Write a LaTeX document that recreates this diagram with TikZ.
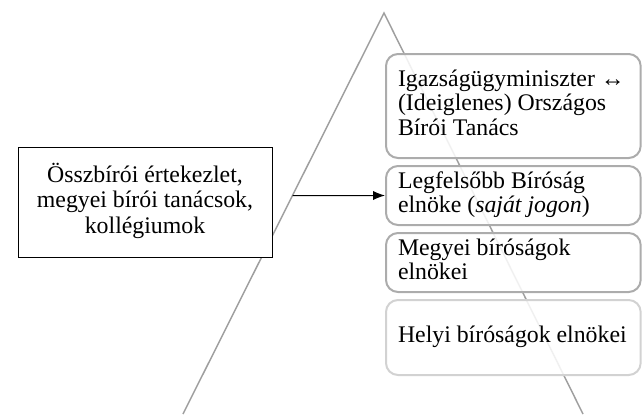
\documentclass[tikz,border=0pt]{standalone}
\usepackage{fontspec}
\setmainfont{Liberation Serif}
\usetikzlibrary{calc}
\usetikzlibrary{positioning}
\usetikzlibrary{arrows.meta}

\newcommand{\leftlines}[1]{\spaceskip=0pt\xspaceskip=0pt\begin{tabular}{@{}l@{}}#1\end{tabular}}
\newcommand{\midlines}[1]{\begin{tabular}{@{}c@{}}#1\end{tabular}}

\tikzset{
  tier/.style={draw=gray!65, line width=1.5pt, rounded corners=9pt, fill=white, fill opacity=.85, text opacity=1,
    text width=173pt, inner xsep=9pt, inner ysep=0pt, anchor=north west,
    font=\fontsize{17.85}{18.3}\selectfont},
  forum/.style={draw, line width=.75pt, fill=white, minimum width=190.5pt, minimum height=82.5pt,
    font=\fontsize{17.85}{19.2}\selectfont}
}

\begin{document}
\begin{tikzpicture}[x=0.75pt, y=-0.75pt]

\useasboundingbox (0,0) rectangle (642,414);

\coordinate (apex) at (384,13);
\coordinate (baseL) at (183,414);
\coordinate (baseR) at (583,414);
\draw[gray!75, line width=1.1pt] (baseL) -- (apex) -- (baseR);

\node[tier, minimum height=78pt] (t1) at (385,53) {\leftlines{Igazságügyminiszter ↔\\(Ideiglenes) Országos\\Bírói Tanács}};
\node[tier, minimum height=44.25pt, below=4.5pt of t1] (t2) {\leftlines{Legfelsőbb Bíróság\\elnöke (\textit{saját jogon})}};
\node[tier, minimum height=44.25pt, below=4.5pt of t2] (t3) {\leftlines{Megyei bíróságok\\elnökei}};
\node[tier, draw=gray!35, minimum height=56.25pt, below=4.5pt of t3] (t4) {\leftlines{Helyi bíróságok elnökei}};

\node[forum] (council) at (145,202) {\midlines{Összbírói értekezlet,\\megyei bírói tanácsok,\\kollégiumok}};

\coordinate (src) at (intersection of apex--baseL and t2.west--t2.east);
\draw[-{Latex[length=9pt,width=7pt]}, line width=.75pt] (src) -- (t2.west);

\end{tikzpicture}
\end{document}
